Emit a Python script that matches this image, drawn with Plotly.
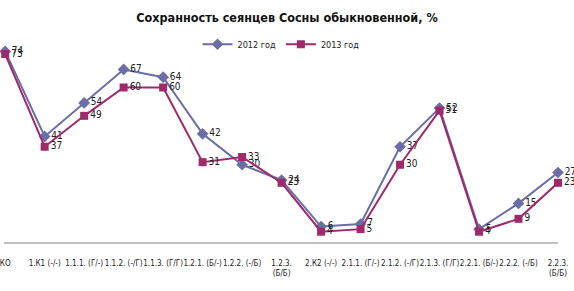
import plotly.graph_objects as go

categories = ["КО", "1.К1 (-/-)", "1.1.1. (Г/-)", "1.1.2. (-/Г)", "1.1.3. (Г/Г)",
              "1.2.1. (Б/-)", "1.2.2. (-/Б)", "1.2.3.<br>(Б/Б)", "2.К2 (-/-)",
              "2.1.1. (Г/-)", "2.1.2. (-/Г)", "2.1.3. (Г/Г)", "2.2.1. (Б/-)",
              "2.2.2. (-/Б)", "2.2.3.<br>(Б/Б)"]
values_2012 = [74, 41, 54, 67, 64, 42, 30, 24, 6, 7, 37, 52, 5, 15, 27]
values_2013 = [73, 37, 49, 60, 60, 31, 33, 23, 4, 5, 30, 51, 4, 9, 23]

FONT = "DejaVu Sans Condensed, Liberation Sans Narrow, sans-serif"
x = list(range(len(categories)))

fig = go.Figure()
fig.add_trace(go.Scatter(
    x=x, y=values_2012, name="2012 год", mode="lines+markers+text",
    line=dict(color="#6B6EA6", width=2),
    marker=dict(symbol="diamond", size=9, color="#6B6EA6"),
    text=[str(v) for v in values_2012], textposition="middle right",
    textfont=dict(size=10, color="#222222", family=FONT), cliponaxis=False))
fig.add_trace(go.Scatter(
    x=x, y=values_2013, name="2013 год", mode="lines+markers+text",
    line=dict(color="#9E2A6A", width=2),
    marker=dict(symbol="square", size=8, color="#9E2A6A"),
    text=[str(v) for v in values_2013], textposition="middle right",
    textfont=dict(size=10, color="#222222", family=FONT), cliponaxis=False))

fig.update_layout(
    width=574, height=291,
    margin=dict(l=4, r=16, t=36, b=49, autoexpand=False),
    paper_bgcolor="white", plot_bgcolor="white",
    font=dict(family=FONT, color="#222222"),
    title=dict(text="<b>Сохранность сеянцев Сосны обыкновенной, %</b>",
               x=0.5, xanchor="center", y=0.94, yanchor="middle",
               font=dict(size=12.5, family=FONT, color="#111111")),
    legend=dict(orientation="h", x=0.5, xanchor="center", y=0.96, yanchor="middle",
                font=dict(size=9, family=FONT), bgcolor="rgba(0,0,0,0)",
                itemwidth=30),
    showlegend=True,
    xaxis=dict(range=[-0.03, 14.0], tickmode="array", tickvals=x, ticktext=categories,
               showgrid=False, zeroline=False, showline=True, linecolor="#BFBFBF",
               linewidth=2, ticks="", ticklabelstandoff=12, automargin=False,
               ticklabeloverflow="allow",
               tickfont=dict(size=8, family=FONT, color="#222222"), tickangle=0),
    yaxis=dict(range=[0, 80], visible=False, showgrid=False, zeroline=False,
               automargin=False),
)

fig.write_html("out.html", config={"displayModeBar": False},
               post_script="document.body.style.margin='0';document.body.style.overflow='hidden';")
